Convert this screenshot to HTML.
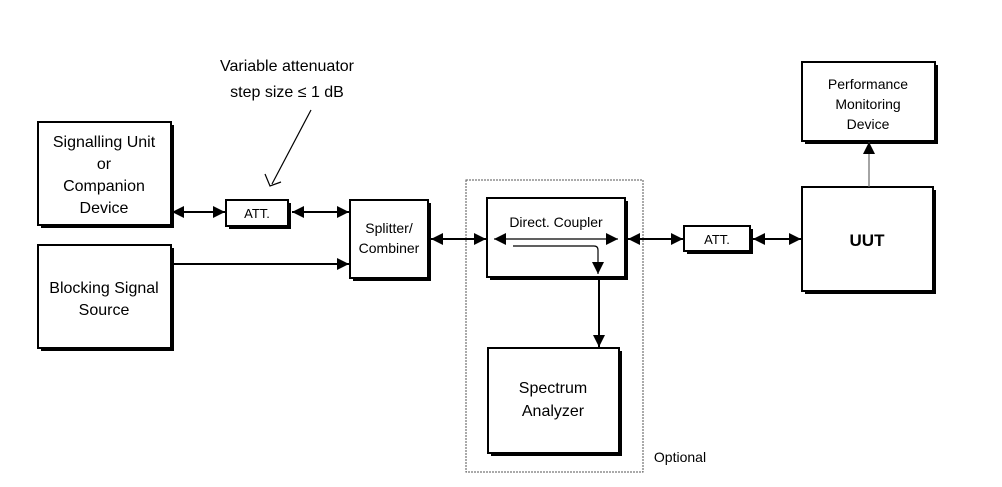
<!DOCTYPE html>
<html><head><meta charset="utf-8"><style>
html,body{margin:0;padding:0;background:#fff;}
svg{display:block;font-family:"Liberation Sans",Arial,sans-serif;}
text{font-size:16px;fill:#000;text-anchor:middle;}
</style></head><body>
<svg width="1002" height="487" viewBox="0 0 1002 487" xmlns="http://www.w3.org/2000/svg">
<defs>
<marker id="a" viewBox="0 0 10 10" refX="10" refY="5" markerWidth="12" markerHeight="12" markerUnits="userSpaceOnUse" orient="auto-start-reverse"><path d="M0,0 L10,5 L0,10 z" fill="#000"/></marker>
</defs>
<g fill="#fff" stroke="#000" stroke-width="2">
<!-- shadows -->
<g fill="#000" stroke="none">
<rect x="41" y="125" width="133" height="103"/>
<rect x="41" y="248" width="133" height="103"/>
<rect x="229" y="203" width="62" height="26"/>
<rect x="353" y="203" width="78" height="78"/>
<rect x="490" y="201" width="138" height="79"/>
<rect x="491" y="351" width="131" height="105"/>
<rect x="687" y="229" width="66" height="25"/>
<rect x="805" y="190" width="131" height="104"/>
<rect x="805" y="65" width="133" height="79"/>
</g>
<rect x="38" y="122" width="133" height="103"/>
<rect x="38" y="245" width="133" height="103"/>
<rect x="226" y="200" width="62" height="26"/>
<rect x="350" y="200" width="78" height="78"/>
<rect x="487" y="198" width="138" height="79"/>
<rect x="488" y="348" width="131" height="105"/>
<rect x="684" y="226" width="66" height="25"/>
<rect x="802" y="187" width="131" height="104"/>
<rect x="802" y="62" width="133" height="79"/>
</g>
<rect x="466" y="180" width="177" height="292" fill="none" stroke="#555" stroke-width="1" stroke-dasharray="2,1"/>
<g stroke="#000" stroke-width="2" fill="none">
<line x1="172" y1="212" x2="225" y2="212" marker-start="url(#a)" marker-end="url(#a)"/>
<line x1="292" y1="212" x2="349" y2="212" marker-start="url(#a)" marker-end="url(#a)"/>
<line x1="171" y1="264" x2="349" y2="264" marker-end="url(#a)"/>
<line x1="431" y1="239" x2="486" y2="239" marker-start="url(#a)" marker-end="url(#a)"/>
<line x1="628" y1="239" x2="683" y2="239" marker-start="url(#a)" marker-end="url(#a)"/>
<line x1="753" y1="239" x2="801" y2="239" marker-start="url(#a)" marker-end="url(#a)"/>
<line x1="599" y1="278" x2="599" y2="347" marker-end="url(#a)"/>
</g>
<g stroke="#000" stroke-width="1.2" fill="none">
<line x1="494" y1="239" x2="618" y2="239" marker-start="url(#a)" marker-end="url(#a)"/>
<path d="M513,246 H594 Q598,246 598,250 V274" marker-end="url(#a)"/>
<line x1="869" y1="187" x2="869" y2="142" stroke="#666" marker-end="url(#a)"/>
<line x1="311" y1="110" x2="272" y2="184"/>
<path d="M265,174 L270,186 L281,182"/>
</g>
<text x="287" y="71">Variable attenuator</text>
<text x="287" y="97">step size ≤ 1 dB</text>
<text x="104" y="147">Signalling Unit</text>
<text x="104" y="169">or</text>
<text x="104" y="191">Companion</text>
<text x="104" y="213">Device</text>
<text x="104" y="293">Blocking Signal</text>
<text x="104" y="315">Source</text>
<text x="257" y="218" style="font-size:13px">ATT.</text>
<text x="389" y="233" style="font-size:14px">Splitter/</text>
<text x="389" y="253" style="font-size:14px">Combiner</text>
<text x="556" y="227" style="font-size:14px">Direct. Coupler</text>
<text x="553" y="393">Spectrum</text>
<text x="553" y="416">Analyzer</text>
<text x="717" y="244" style="font-size:13px">ATT.</text>
<text x="867" y="246" style="font-size:17px;font-weight:bold">UUT</text>
<text x="868" y="89" style="font-size:14px">Performance</text>
<text x="868" y="109" style="font-size:14px">Monitoring</text>
<text x="868" y="129" style="font-size:14px">Device</text>
<text x="680" y="462" style="font-size:14px">Optional</text>
</svg>
</body></html>
